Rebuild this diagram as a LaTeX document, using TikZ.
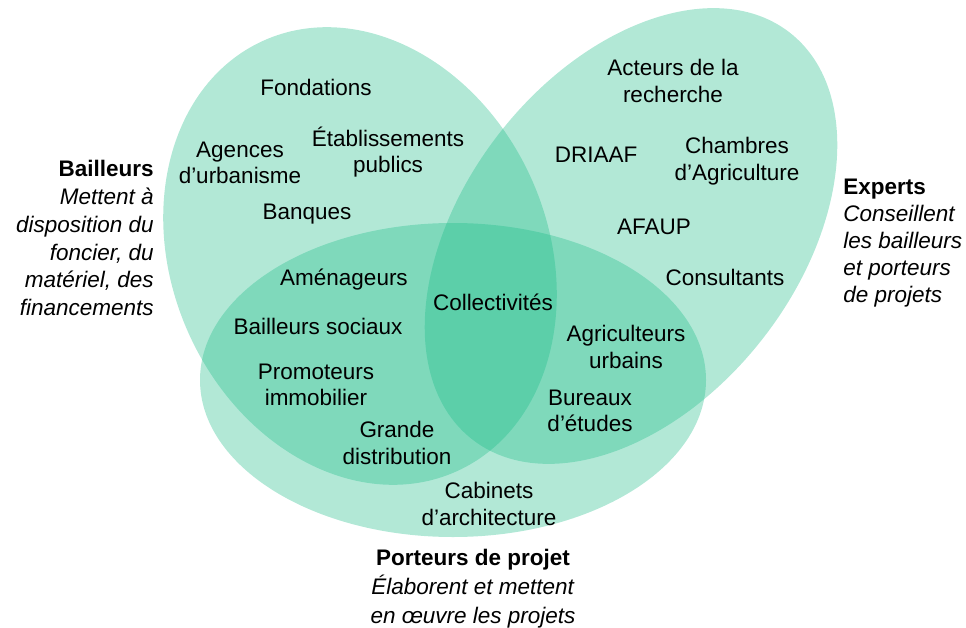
\documentclass[tikz,border=0pt]{standalone}
\usepackage{fontspec}
\setmainfont{Liberation Sans}
\usepackage{tikz}
\usetikzlibrary{positioning}
\definecolor{venn}{RGB}{21,186,132}

\begin{document}
\begin{tikzpicture}[
            x = 0.02cm, y = -0.02cm, % one unit per pixel, y downwards
            font = \fontsize{12.8}{15.1}\selectfont,
            inner sep = 0pt
        ]

        \tikzstyle{set}=[
            fill = venn,
            fill opacity = 0.33
        ]
        \tikzstyle{item}=[
            align = center
        ]
        \tikzstyle{legend}=[
            font = \fontsize{12.8}{15.9}\selectfont
        ]

        \useasboundingbox (0,0) rectangle (966,628);

	% the three sets
        \fill[set, rotate around={-66:(360,256)}] (360,256) ellipse (236 and 188);
        \fill[set, rotate around={52:(631,236)}] (631,236) ellipse (258 and 167);
        \fill[set] (453,380) ellipse (253 and 157);

        % Bailleurs
        \node[item] (FO) at (316,87) {Fondations};
        \node[item] (AU) at (240,163) {Agences\\d'urbanisme};
        \node[item] (EP) at (388,152) {Établissements\\publics};
        \node[item] (BQ) at (307,214) {Banques};

        % Experts
        \node[item] (AR) at (673,81) {Acteurs de la\\recherche};
        \node[item] (DR) at (596,155) {DRIAAF};
        \node[item] (CA) at (737,161) {Chambres\\d'Agriculture};
        \node[item] (AF) at (654,227) {AFAUP};
        \node[item] (CO) at (725,277) {Consultants};

        % Porteurs de projet
        \node[item] (AM) at (344,280) {Aménageurs};
        \node[item] (BS) at (318,326) {Bailleurs sociaux};
        \node[item] (PI) at (316,385) {Promoteurs\\immobilier};
        \node[item] (GD) at (397,443) {Grande\\distribution};
        \node[item] (CL) at (493,302) {Collectivités};
        \node[item] (AG) at (626,347) {Agriculteurs\\urbains};
        \node[item] (BE) at (590,411) {Bureaux\\d'études};
        \node[item] (CB) at (489,504) {Cabinets\\d'architecture};

        % legends
        \node[legend, align=right, anchor=east] (LB) at (154,238)
            {\textbf{Bailleurs}\\\textit{Mettent à}\\\textit{disposition du}\\\textit{foncier, du}\\\textit{matériel, des}\\\textit{financements}};
        \node[legend, align=left, anchor=west, font=\fontsize{12.8}{15.3}\selectfont] (LE) at (843,243)
            {\textbf{Experts}\\\textit{Conseillent}\\\textit{les bailleurs}\\\textit{et porteurs}\\\textit{de projets}};
        \node[legend, align=center, font=\fontsize{12.8}{16.6}\selectfont] (LP) at (473,589)
            {\textbf{Porteurs de projet}\\\textit{Élaborent et mettent}\\\textit{en œuvre les projets}};

\end{tikzpicture}
\end{document}
